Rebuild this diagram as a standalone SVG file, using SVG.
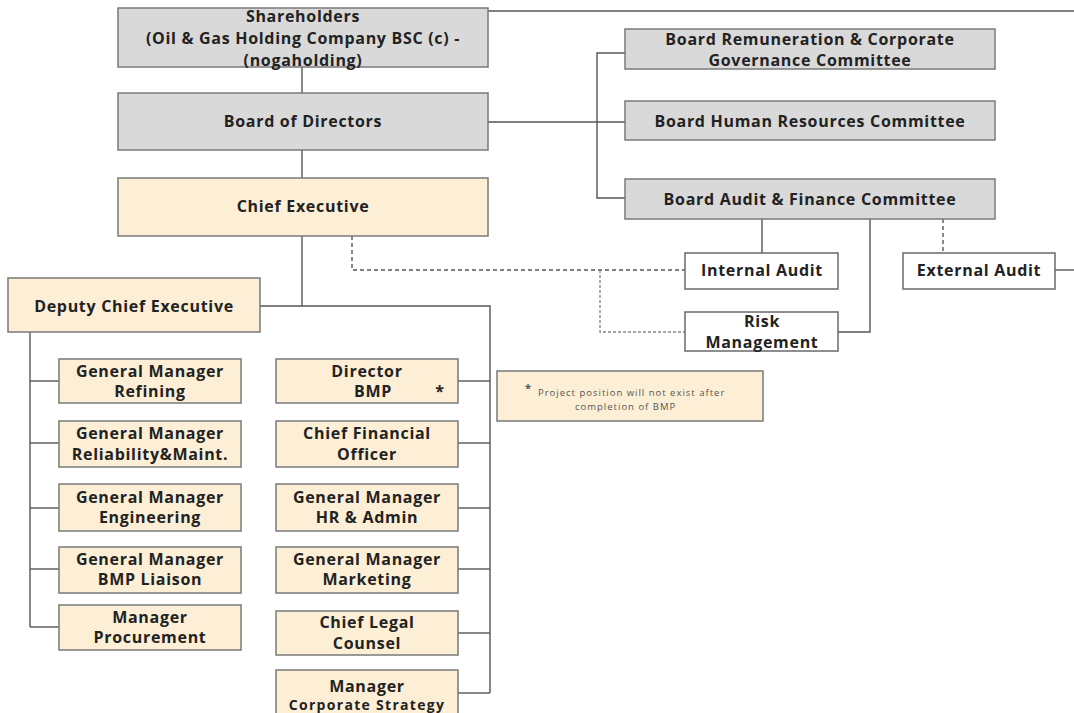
<svg xmlns="http://www.w3.org/2000/svg" width="1074" height="713" viewBox="0 0 1074 713">
<style>
.g{fill:#d9d9d9;stroke:#7a7a7a;stroke-width:1.5}
.b{fill:#fcefd6;stroke:#7a7a7a;stroke-width:1.5}
.w{fill:#ffffff;stroke:#6a6a6a;stroke-width:1.5}
text{font-family:"Open Sans","Liberation Sans",sans-serif;font-weight:bold;font-size:16px;letter-spacing:0.7px;fill:#222;text-anchor:middle}
.s{font-size:14px;letter-spacing:1.3px}
.n{font-size:9.5px;letter-spacing:1px;font-weight:normal;fill:#555;text-anchor:start}
.c line,.c polyline{stroke:#555;stroke-width:1.4;fill:none}
.c .d{stroke-dasharray:4 3}
.c .dt{stroke:#888;stroke-dasharray:3 2}
</style>
<g class="c" id="connectors">
<line x1="488" y1="11" x2="1074" y2="11"/>
<line x1="302" y1="67" x2="302" y2="93"/>
<line x1="302" y1="150" x2="302" y2="178"/>
<line x1="488" y1="122" x2="625" y2="122"/>
<polyline points="625,53 597,53 597,198 625,198"/>
<line x1="762" y1="219" x2="762" y2="253"/>
<polyline points="870,219 870,332 838,332"/>
<line class="d" x1="943" y1="219" x2="943" y2="253"/>
<line x1="1055" y1="270" x2="1074" y2="270"/>
<polyline class="d" points="352,236 352,270 685,270"/>
<polyline class="dt" points="600,270 600,332 685,332"/>
<line x1="302" y1="236" x2="302" y2="306"/>
<polyline points="260,306 490,306 490,693"/>
<line x1="30" y1="332" x2="30" y2="627"/>
<line x1="30" y1="381" x2="59" y2="381"/>
<line x1="30" y1="443" x2="59" y2="443"/>
<line x1="30" y1="508" x2="59" y2="508"/>
<line x1="30" y1="569" x2="59" y2="569"/>
<line x1="30" y1="627" x2="59" y2="627"/>
<line x1="458" y1="381" x2="490" y2="381"/>
<line x1="458" y1="443" x2="490" y2="443"/>
<line x1="458" y1="508" x2="490" y2="508"/>
<line x1="458" y1="569" x2="490" y2="569"/>
<line x1="458" y1="633" x2="490" y2="633"/>
<line x1="458" y1="693" x2="490" y2="693"/>
</g>
<g id="shareholders"><rect class="g" x="118" y="8" width="370" height="59"/><text x="303" y="22">Shareholders</text><text x="303" y="44">(Oil &amp; Gas Holding Company BSC (c) -</text><text x="303" y="66">(nogaholding)</text></g>
<g id="board"><rect class="g" x="118" y="93" width="370" height="57"/><text x="303" y="127">Board of Directors</text></g>
<g id="remuneration"><rect class="g" x="625" y="29" width="370" height="40"/><text x="810" y="45">Board Remuneration &amp; Corporate</text><text x="810" y="66">Governance Committee</text></g>
<g id="hr-committee"><rect class="g" x="625" y="101" width="370" height="39"/><text x="810" y="127">Board Human Resources Committee</text></g>
<g id="audit-committee"><rect class="g" x="625" y="179" width="370" height="40"/><text x="810" y="205">Board Audit &amp; Finance Committee</text></g>
<g id="chief-exec"><rect class="b" x="118" y="178" width="370" height="58"/><text x="303" y="212">Chief Executive</text></g>
<g id="internal-audit"><rect class="w" x="685" y="253" width="153" height="36"/><text x="762" y="276">Internal Audit</text></g>
<g id="external-audit"><rect class="w" x="903" y="253" width="152" height="36"/><text x="979" y="276">External Audit</text></g>
<g id="risk"><rect class="w" x="685" y="312" width="153" height="39"/><text x="762" y="327">Risk</text><text x="762" y="348">Management</text></g>
<g id="deputy"><rect class="b" x="8" y="278" width="252" height="54"/><text x="134" y="312">Deputy Chief Executive</text></g>
<g id="gm-refining"><rect class="b" x="59" y="359" width="182" height="44"/><text x="150" y="377">General Manager</text><text x="150" y="397">Refining</text></g>
<g id="gm-reliability"><rect class="b" x="59" y="421" width="182" height="46"/><text x="150" y="439">General Manager</text><text x="150" y="460">Reliability&amp;Maint.</text></g>
<g id="gm-engineering"><rect class="b" x="59" y="484" width="182" height="47"/><text x="150" y="503">General Manager</text><text x="150" y="523">Engineering</text></g>
<g id="gm-bmp-liaison"><rect class="b" x="59" y="547" width="182" height="46"/><text x="150" y="565">General Manager</text><text x="150" y="585">BMP Liaison</text></g>
<g id="mgr-procurement"><rect class="b" x="59" y="605" width="182" height="45"/><text x="150" y="623">Manager</text><text x="150" y="643">Procurement</text></g>
<g id="director-bmp"><rect class="b" x="276" y="359" width="182" height="44"/><text x="367" y="377">Director</text><text x="373" y="397">BMP</text><text x="440" y="397">*</text></g>
<g id="cfo"><rect class="b" x="276" y="421" width="182" height="46"/><text x="367" y="439">Chief Financial</text><text x="367" y="460">Officer</text></g>
<g id="gm-hr"><rect class="b" x="276" y="484" width="182" height="47"/><text x="367" y="503">General Manager</text><text x="367" y="523">HR &amp; Admin</text></g>
<g id="gm-marketing"><rect class="b" x="276" y="547" width="182" height="46"/><text x="367" y="565">General Manager</text><text x="367" y="585">Marketing</text></g>
<g id="legal"><rect class="b" x="276" y="611" width="182" height="44"/><text x="367" y="628">Chief Legal</text><text x="367" y="649">Counsel</text></g>
<g id="strategy"><rect class="b" x="276" y="670" width="182" height="50"/><text x="367" y="692">Manager</text><text class="s" x="367" y="710">Corporate  Strategy</text></g>
<g id="note"><rect class="b" x="497" y="371" width="266" height="50"/><text class="n" x="525" y="392" style="font-size:11px;font-weight:bold">*</text><text class="n" x="538" y="396">Project position will not exist after</text><text class="n" x="575" y="410">completion of BMP</text></g>
</svg>
